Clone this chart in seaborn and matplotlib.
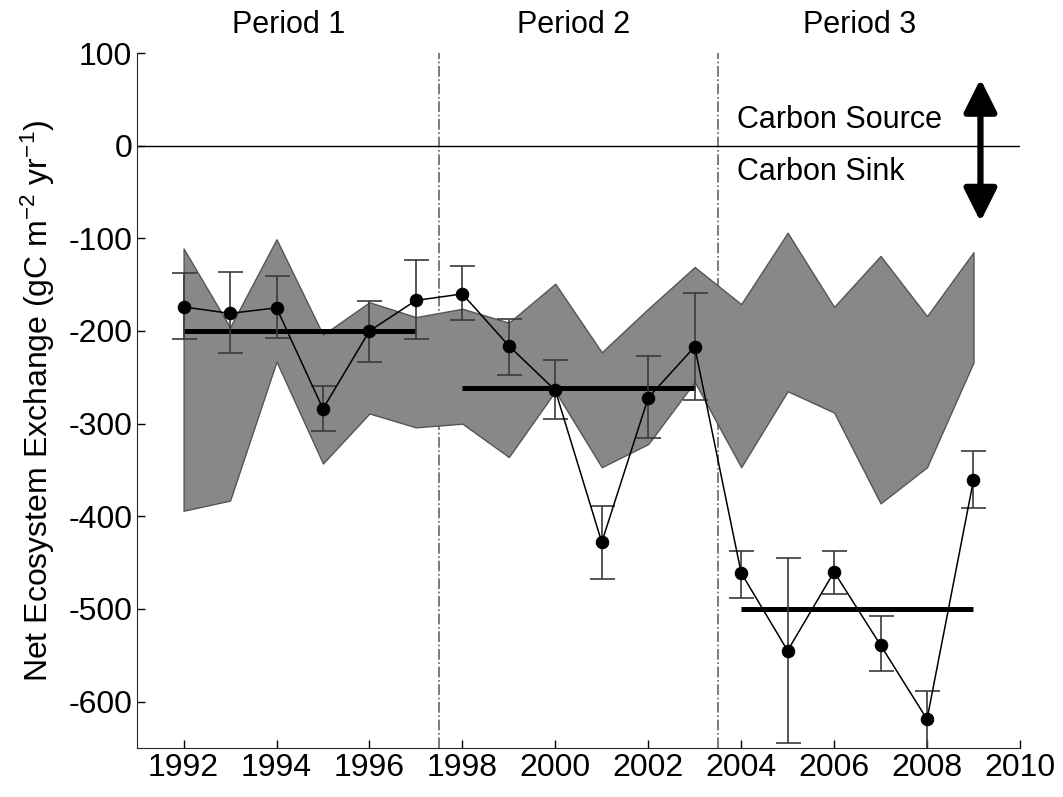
import matplotlib
matplotlib.use("Agg")
import matplotlib.pyplot as plt
import seaborn as sns
import pandas as pd

years = list(range(1992, 2010))
nee = [-174, -181, -175, -284, -200, -167,
       -160, -216, -264, -428, -272, -217,
       -461, -545, -460, -539, -619, -361]
err_top = [-137, -136, -141, -259, -168, -123,
           -130, -187, -231, -389, -227, -159,
           -437, -445, -437, -508, -588, -329]
err_bot = [-209, -224, -208, -308, -233, -209,
           -188, -247, -295, -468, -316, -275,
           -488, -645, -484, -567, -655, -391]
band_upper = [-111, -196, -101, -204, -169, -185,
              -176, -191, -149, -223, -176, -131,
              -171, -94, -174, -119, -184, -115]
band_lower = [-394, -383, -233, -343, -289, -304,
              -300, -336, -265, -347, -322, -255,
              -347, -265, -288, -386, -347, -234]
period_names = ["Period 1", "Period 2", "Period 3"]
period_label_x = [1994.25, 2000.4, 2006.55]
period_start = [1992, 1998, 2004]
period_end = [1997, 2003, 2009]
period_mean = [-200, -262, -500]
period_breaks = [1997.5, 2003.5]

df = pd.DataFrame({"year": years, "nee": nee})

sns.set_style("ticks")
plt.rcParams["font.family"] = ["Liberation Sans", "DejaVu Sans"]
plt.rcParams["axes.unicode_minus"] = False
plt.rcParams["mathtext.fontset"] = "custom"
plt.rcParams["mathtext.rm"] = "Liberation Sans"
plt.rcParams["mathtext.default"] = "regular"
for key in ["text.color", "axes.labelcolor", "xtick.color", "ytick.color"]:
    plt.rcParams[key] = "black"

fig = plt.figure(figsize=(10.63, 7.97), dpi=100)
ax = fig.add_axes([0.129, 0.0615, 0.8305, 0.872])

ax.fill_between(years, band_lower, band_upper, color="#888888",
                edgecolor="#555555", linewidth=1, zorder=1)

for x in period_breaks:
    ax.axvline(x, color="#666666", linestyle="-.", linewidth=1.2, zorder=0)
ax.axhline(0, color="black", linewidth=1, zorder=2)

for s, e, m in zip(period_start, period_end, period_mean):
    ax.plot([s, e], [m, m], color="black", linewidth=3.6, zorder=3,
            solid_capstyle="butt")

lo = [n - b for n, b in zip(nee, err_bot)]
hi = [t - n for n, t in zip(nee, err_top)]
ax.errorbar(years, nee, yerr=[lo, hi], fmt="none", ecolor="#3a3a3a",
            elinewidth=1.2, capsize=9, capthick=1.2, zorder=4)

sns.lineplot(data=df, x="year", y="nee", ax=ax, color="black", linewidth=1.1,
             marker="o", markersize=9, markeredgecolor="black", zorder=5)

for name, px in zip(period_names, period_label_x):
    ax.text(px, 130, name, fontsize=22, ha="center", va="center",
            clip_on=False)

ax.text(2003.9, 28, "Carbon Source", fontsize=22, ha="left", va="center")
ax.text(2003.9, -28, "Carbon Sink", fontsize=22, ha="left", va="center")
ax.annotate("", xy=(2009.15, 72), xytext=(2009.15, -82),
            arrowprops=dict(arrowstyle="<|-|>,head_length=0.5,head_width=0.25",
                            color="black", lw=4.5, mutation_scale=40,
                            shrinkA=0, shrinkB=0))

ax.set_xlim(1991, 2010)
ax.set_ylim(-650, 100)
ax.set_xticks(range(1992, 2011, 2))
ax.set_yticks(range(-600, 101, 100))
ax.tick_params(direction="in", labelsize=23, length=6, width=1)
ax.set_xlabel("")
ax.set_ylabel("Net Ecosystem Exchange (gC m$^{-2}$ yr$^{-1}$)", fontsize=23,
              labelpad=8)
sns.despine(ax=ax)

fig.savefig("out.png", dpi=100)
